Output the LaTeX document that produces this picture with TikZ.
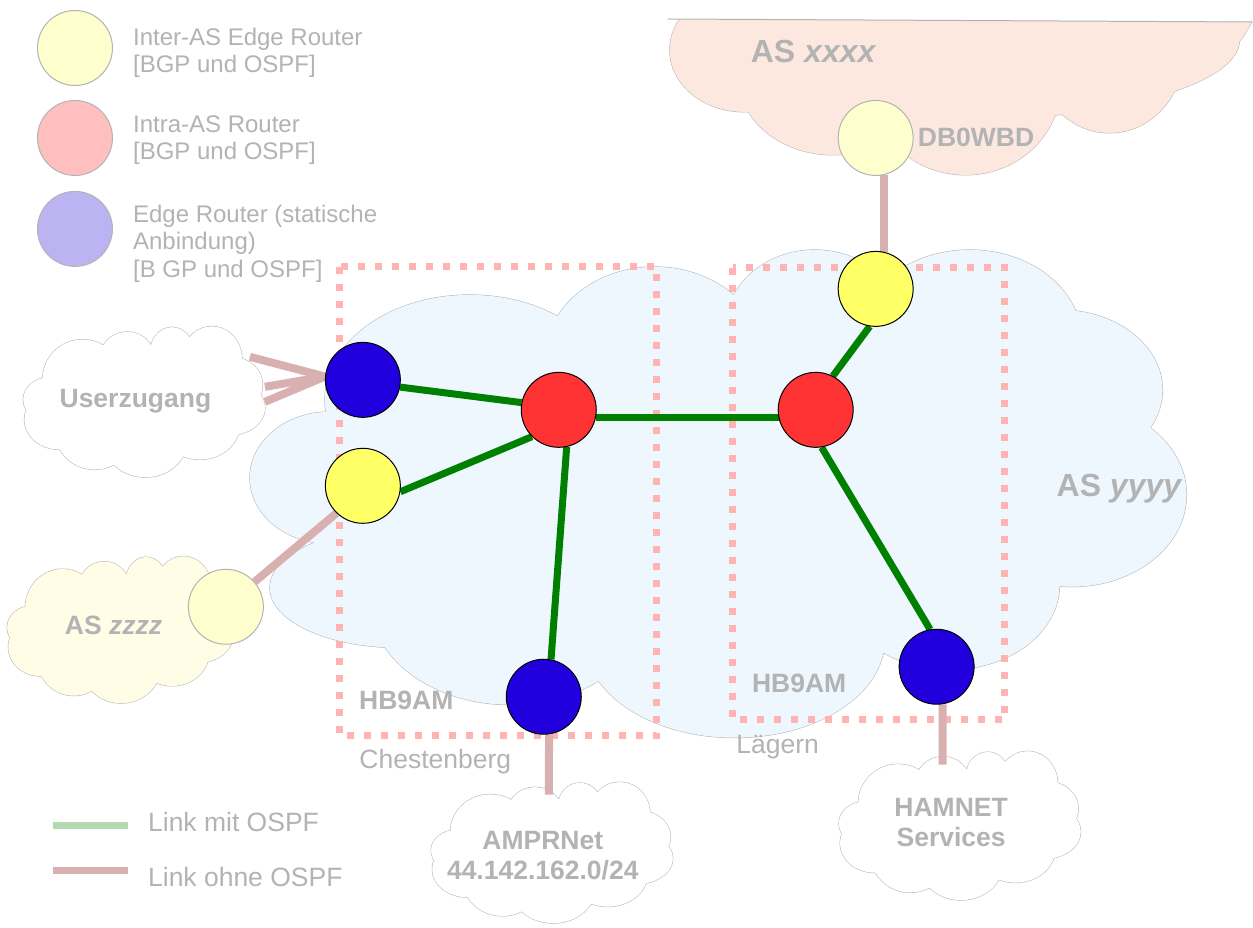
\documentclass[tikz,border=0pt]{standalone}
\usepackage{fontspec}
\setmainfont{Liberation Sans}
\usetikzlibrary{calc}
\definecolor{txtgray}{HTML}{B3B3B3}
\definecolor{cloudblue}{HTML}{EEF6FE}
\definecolor{cloudsalmon}{HTML}{FDE8E0}
\definecolor{cloudyellow}{HTML}{FFFDE6}
\definecolor{rblue}{HTML}{2200DD}
\definecolor{rred}{HTML}{FF3333}
\definecolor{ryellow}{HTML}{FFFF66}
\definecolor{lyellow}{HTML}{FFFFCE}
\definecolor{lpink}{HTML}{FFBFBF}
\definecolor{llav}{HTML}{BBB3F2}
\definecolor{ospf}{HTML}{008000}
\definecolor{noospf}{HTML}{D9B0B0}
\definecolor{ospflight}{HTML}{B3D9B0}
\definecolor{boxpink}{HTML}{FFB3B3}

\pgfdeclarelayer{bg}
\pgfdeclarelayer{links}
\pgfsetlayers{bg,links,main}

\newcommand\unitcloudpath{%
 (-0.77,-0.03) ellipse [x radius=0.22, y radius=0.29]
 (-0.5,-0.29) ellipse [x radius=0.33, y radius=0.52]
 (-0.13,-0.55) ellipse [x radius=0.23, y radius=0.36]
 (0.24,-0.65) ellipse [x radius=0.18, y radius=0.32]
 (0.57,-0.55) ellipse [x radius=0.25, y radius=0.43]
 (0.74,-0.22) ellipse [x radius=0.25, y radius=0.36]
 (0.7,0.08) ellipse [x radius=0.31, y radius=0.36]
 (0.47,0.3) ellipse [x radius=0.33, y radius=0.45]
 (0.02,0.49) ellipse [x radius=0.35, y radius=0.49]
 (-0.4,0.36) ellipse [x radius=0.33, y radius=0.52]
 (-0.69,0.23) ellipse [x radius=0.29, y radius=0.39]
 (0,0) ellipse [x radius=0.7, y radius=0.6]}

\newcommand\bigcloudpath{%
 (330,478) ellipse [x radius=80, y radius=66]
 (400,588) ellipse [x radius=130, y radius=60]
 (510,600) ellipse [x radius=140, y radius=105]
 (735,640) ellipse [x radius=150, y radius=98]
 (950,585) ellipse [x radius=110, y radius=85]
 (1072,495) ellipse [x radius=115, y radius=92]
 (1060,390) ellipse [x radius=103, y radius=80]
 (970,340) ellipse [x radius=112, y radius=90]
 (815,330) ellipse [x radius=90, y radius=80]
 (655,360) ellipse [x radius=110, y radius=93]
 (470,400) ellipse [x radius=145, y radius=105]
 (720,480) ellipse [x radius=360, y radius=170]}

\newcommand\topcloudpath{%
 (745,50) ellipse [x radius=75, y radius=62]
 (833,75) ellipse [x radius=95, y radius=80]
 (966,85) ellipse [x radius=95, y radius=90]
 (1110,50) ellipse [x radius=75, y radius=83]
 (1190,-60) ellipse [x radius=80, y radius=130]
 (960,40) ellipse [x radius=280, y radius=80]}

\newcommand\smallcloud[5]{%
 \begin{scope}[shift={(#1,#2)},xscale=#3,yscale=#4]
  \draw[cloudline,fill=#5] \unitcloudpath;
  \fill[#5] \unitcloudpath;
 \end{scope}}

\begin{document}
\begin{tikzpicture}[x=1pt,y=-1pt,
 cloudline/.style={draw=txtgray, line width=1pt},
 router/.style={circle, minimum size=75pt, inner sep=0pt, draw=black, line width=1pt},
 lrouter/.style={circle, minimum size=75pt, inner sep=0pt, draw=txtgray, line width=1pt},
 ospflink/.style={draw=ospf, line width=7pt},
 plainlink/.style={draw=noospf, line width=8pt},
 siteframe/.style={draw=boxpink, line width=7pt, dash pattern=on 7pt off 10pt},
 lbl/.style={text=txtgray, font=\bfseries\fontsize{26.5}{30}\selectfont, inner sep=0pt},
 aslbl/.style={text=txtgray, font=\bfseries\fontsize{32}{36}\selectfont, inner sep=0pt},
 site/.style={text=txtgray, font=\fontsize{26.5}{30}\selectfont, inner sep=0pt},
 legtext/.style={text=txtgray, font=\fontsize{24}{27.5}\selectfont, inner sep=0pt, align=left, anchor=north west},
 legline/.style={line width=7pt}
]
\begin{pgfonlayer}{bg}
\fill[white] (0,0) rectangle (1253,928);
% big cloud
\draw[cloudline,fill=cloudblue] \bigcloudpath;
\fill[cloudblue] \bigcloudpath;
% top cloud AS xxxx
\begin{scope}
 \clip (660,19) -- (1253,22) -- (1253,200) -- (660,200) -- cycle;
 \draw[cloudline,fill=cloudsalmon] \topcloudpath;
 \fill[cloudsalmon] \topcloudpath;
\end{scope}
\draw[cloudline] (668,19) -- (1253,22);
% small clouds
\smallcloud{143}{402}{121}{77}{white}
\smallcloud{119}{630}{113}{75}{cloudyellow}
\smallcloud{551}{853}{121}{72}{white}
\smallcloud{959}{826}{121}{76}{white}
% site frames
\draw[siteframe] (340,267) rectangle (657,736);
\draw[siteframe] (733,268) rectangle (1005,720);
\end{pgfonlayer}
\useasboundingbox (0,0) rectangle (1253,928);

% routers
\node[router, fill=rblue] (B1) at (363,380) {};
\node[router, fill=ryellow] (Y1) at (363,486) {};
\node[router, fill=rred] (R1) at (559,410) {};
\node[router, fill=rblue] (B2) at (544,697) {};
\node[router, fill=rred] (R2) at (816,410) {};
\node[router, fill=ryellow] (Y2) at (876,289) {};
\node[router, fill=rblue] (B3) at (937,667) {};
\node[lrouter, fill=lyellow] (DB) at (876,138) {};
\node[lrouter, fill=lyellow] (ZZ) at (226,607) {};

\coordinate (u1) at (250,357);
\coordinate (u2) at (265,387);
\coordinate (u3) at (265,402);
\coordinate (amprtop) at (549,795);
\coordinate (hamtop) at (943,765);

% links behind the routers
\begin{pgfonlayer}{links}
\path[plainlink] (u1) -- (B1.175);
\path[plainlink] (u2) -- (B1.175);
\path[plainlink] (u3) -- (B1.175);
\path[plainlink] (DB.282) -- (Y2.78);
\path[plainlink] (Y1.226) -- (ZZ.41);
\path[plainlink] (B2.278) -- (amprtop);
\path[plainlink] (B3.279) -- (hamtop);
\path[ospflink] (B1.349) -- (R1.169);
\path[ospflink] (Y1.351) -- (R1.225);
\path[ospflink] (R1.282) -- (B2.79);
\path[ospflink] (R1.348) -- (R2.192);
\path[ospflink] (R2.63) -- (Y2.261);
\path[ospflink] (R2.279) -- (B3.100);
\end{pgfonlayer}

% labels
\node[aslbl, anchor=base] (asx) at (814,63) {AS \textit{xxxx}};
\node[aslbl, anchor=base] (asy) at (1120,497) {AS \textit{yyyy}};
\node[lbl, anchor=base] (dblbl) at (976.5,147) {DB0WBD};
\node[lbl, anchor=base] (userlbl) at (135.5,408) {Userzugang};
\node[lbl, anchor=base] (aszlbl) at (113.5,635) {AS \textit{zzzz}};
\node[lbl, anchor=base] (hb1) at (406.5,710) {HB9AM};
\node[lbl, anchor=base] (hb2) at (799.5,693) {HB9AM};
\node[site, anchor=base] (ches) at (435.5,769) {Chestenberg};
\node[site, anchor=base] (laeg) at (778,754) {Lägern};
\node[lbl, align=center, anchor=north] (ampr) at (543,831) {AMPRNet\\44.142.162.0/24};
\node[lbl, align=center, anchor=north] (ham) at (951.5,798) {HAMNET\\Services};

% legend
\node[lrouter, fill=lyellow] (lg1) at (75,48) {};
\node[lrouter, fill=lpink] (lg2) at (75,138) {};
\node[lrouter, fill=llav] (lg3) at (75,229) {};
\node[legtext] (lt1) at (133,27.5) {Inter-AS Edge Router\\{[}BGP und OSPF{]}};
\node[legtext] (lt2) at (133,115.5) {Intra-AS Router\\{[}BGP und OSPF{]}};
\node[legtext] (lt3) at (133,205) {Edge Router (statische\\Anbindung)\\{[}B GP und OSPF{]}};

\coordinate (lga) at (53,826);
\coordinate (lgb) at (128,826);
\coordinate (lgc) at (53,871);
\coordinate (lgd) at (128,871);
\draw[legline, ospflight] (lga) -- (lgb);
\draw[legline, noospf] (lgc) -- (lgd);
\node[site, anchor=base west] (ll1) at (148,832) {Link mit OSPF};
\node[site, anchor=base west] (ll2) at (148,887) {Link ohne OSPF};
\end{tikzpicture}
\end{document}
